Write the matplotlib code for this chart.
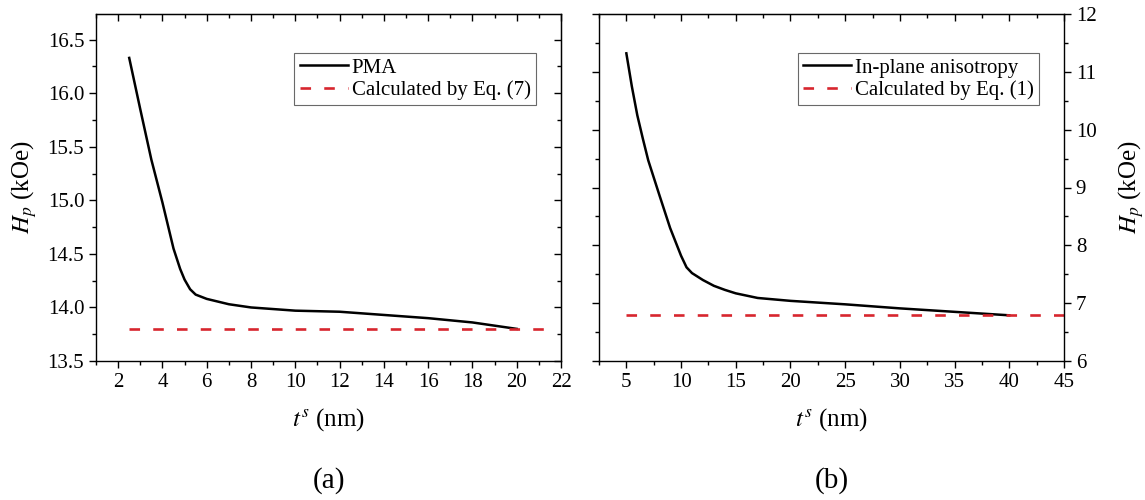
import matplotlib
matplotlib.use('Agg')
import matplotlib.pyplot as plt
from matplotlib.ticker import MultipleLocator, NullFormatter, FormatStrFormatter

plt.rcParams['font.family'] = ['Liberation Serif', 'DejaVu Serif']
plt.rcParams['mathtext.fontset'] = 'stix'

# (a) perpendicular magnetic anisotropy
pma_t = [2.5, 3.0, 3.5, 4.0, 4.5, 4.8, 5.0, 5.25, 5.5, 6.0, 7.0, 8.0, 10.0, 12.0, 14.0, 16.0, 17.0, 18.0, 19.0, 20.0]
pma_hp = [16.33, 15.85, 15.38, 14.98, 14.55, 14.36, 14.26, 14.17, 14.12, 14.08, 14.03, 14.0,
          13.97, 13.96, 13.93, 13.90, 13.88, 13.86, 13.83, 13.80]
pma_calc_t = [2.5, 21.5]
pma_calc_hp = [13.80, 13.80]

# (b) in-plane anisotropy
ip_t = [5.0, 5.5, 6.0, 6.5, 7.0, 8.0, 9.0, 10.0, 10.5, 11.0, 12.0, 13.0, 14.0, 15.0,
        17.0, 20.0, 25.0, 30.0, 35.0, 40.0]
ip_hp = [11.32, 10.75, 10.25, 9.85, 9.47, 8.88, 8.30, 7.82, 7.62, 7.52, 7.40, 7.30,
         7.23, 7.17, 7.09, 7.04, 6.98, 6.91, 6.85, 6.79]
ip_calc_t = [5.0, 45.0]
ip_calc_hp = [6.79, 6.79]

RED = '#d7262e'
TICK_FS = 15
LABEL_FS = 18


def setup_axis(ax, xmaj, xmin, ymaj, ymin, ylabel_right=False):
    ax.xaxis.set_major_locator(MultipleLocator(xmaj))
    ax.xaxis.set_minor_locator(MultipleLocator(xmin))
    ax.yaxis.set_major_locator(MultipleLocator(ymaj))
    ax.yaxis.set_minor_locator(MultipleLocator(ymin))
    ax.tick_params(axis='both', which='major', length=5, width=1, labelsize=TICK_FS, direction='out')
    ax.tick_params(axis='both', which='minor', length=3, width=1, direction='out')
    ax.tick_params(axis='x', which='both', top=False)
    for sp in ax.spines.values():
        sp.set_linewidth(1.0)

    # top ticks point inward, no labels
    sx = ax.secondary_xaxis('top')
    sx.xaxis.set_major_locator(MultipleLocator(xmaj))
    sx.xaxis.set_minor_locator(MultipleLocator(xmin))
    sx.xaxis.set_major_formatter(NullFormatter())
    sx.tick_params(which='major', direction='in', length=5, width=1)
    sx.tick_params(which='minor', direction='in', length=3, width=1)

    if ylabel_right:
        ax.tick_params(axis='y', which='both', left=True, right=True, labelleft=False, labelright=True)
        ax.yaxis.set_label_position('right')
    else:
        ax.tick_params(axis='y', which='both', right=False)
        sy = ax.secondary_yaxis('right')
        sy.yaxis.set_major_locator(MultipleLocator(ymaj))
        sy.yaxis.set_minor_locator(MultipleLocator(ymin))
        sy.yaxis.set_major_formatter(NullFormatter())
        sy.tick_params(which='major', direction='in', length=5, width=1)
        sy.tick_params(which='minor', direction='in', length=3, width=1)


def add_legend(ax):
    leg = ax.legend(loc='upper right', bbox_to_anchor=(0.946, 0.888), fontsize=15, frameon=True,
                    fancybox=False, edgecolor='#444444', handlelength=2.3, handletextpad=0.2,
                    borderpad=0.25, labelspacing=0.12, borderaxespad=0)
    leg.get_frame().set_linewidth(0.8)


fig = plt.figure(figsize=(11.45, 5.0), dpi=100)
ax1 = fig.add_axes([96 / 1145, 1 - 361 / 500, 465 / 1145, 347 / 500])
ax2 = fig.add_axes([599 / 1145, 1 - 361 / 500, 465 / 1145, 347 / 500])

# panel (a)
ax1.plot(pma_t, pma_hp, color='black', lw=1.8, label='PMA')
ax1.plot(pma_calc_t, pma_calc_hp, color=RED, lw=1.9, dashes=(4, 5), label='Calculated by Eq. (7)')
ax1.set_xlim(1, 22)
ax1.set_ylim(13.5, 16.74)
setup_axis(ax1, 2, 1, 0.5, 0.25)
ax1.yaxis.set_major_formatter(FormatStrFormatter('%.1f'))
ax1.set_ylabel(r'$H_p$ (kOe)', fontsize=LABEL_FS, labelpad=6)
ax1.set_xlabel(r'$t^s$ (nm)', fontsize=LABEL_FS, labelpad=10)
ax1.text(0.5, -0.345, '(a)', transform=ax1.transAxes, ha='center', va='center', fontsize=21)
add_legend(ax1)

# panel (b)
ax2.plot(ip_t, ip_hp, color='black', lw=1.8, label='In-plane anisotropy')
ax2.plot(ip_calc_t, ip_calc_hp, color=RED, lw=1.9, dashes=(4, 5), label='Calculated by Eq. (1)')
ax2.set_xlim(2.5, 45)
ax2.set_ylim(6, 12)
setup_axis(ax2, 5, 2.5, 1, 0.5, ylabel_right=True)
ax2.set_ylabel(r'$H_p$ (kOe)', fontsize=LABEL_FS, labelpad=14)
ax2.set_xlabel(r'$t^s$ (nm)', fontsize=LABEL_FS, labelpad=10)
ax2.text(0.5, -0.345, '(b)', transform=ax2.transAxes, ha='center', va='center', fontsize=21)
add_legend(ax2)

fig.savefig('out.png', dpi=100)
